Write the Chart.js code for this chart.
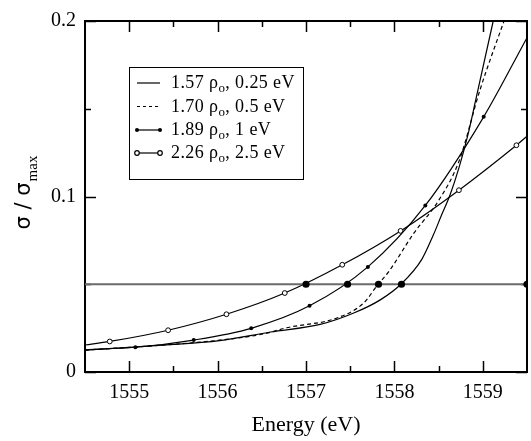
<!DOCTYPE html>
<html>
<head>
<meta charset="utf-8">
<script src="https://cdn.jsdelivr.net/npm/chart.js@4"></script>
<style>
  body { margin: 0; background: #fff; }
</style>
</head>
<body>
<canvas id="out" width="531" height="441"></canvas>
<script>
// axis ranges and ticks
const energyRange = [1554.5, 1559.5];
const sigmaRange = [0, 0.2];
const xTicks = [1555, 1556, 1557, 1558, 1559];
const xMinorTicks = [1555.5, 1556.5, 1557.5, 1558.5];
const yTicks = [0, 0.1, 0.2];
const yMinorTicks = [0.05, 0.15];

// 1.57 rho_o, 0.25 eV (solid)
const energy025 = [1554.5, 1555.0, 1555.5, 1556.0, 1556.6, 1557.16, 1557.54, 1557.84, 1558.08, 1558.31, 1558.44, 1558.53, 1558.63, 1558.73, 1558.83, 1558.92, 1559.2];
const sigma025 = [0.0125, 0.0140, 0.0157, 0.0177, 0.0228, 0.0271, 0.0336, 0.0411, 0.0503, 0.0642, 0.0780, 0.0890, 0.1010, 0.1163, 0.1348, 0.1550, 0.2187];

// 1.70 rho_o, 0.5 eV (dashed)
const energy05 = [1554.5, 1555.0, 1555.5, 1556.0, 1556.5, 1556.78, 1557.35, 1557.65, 1557.82, 1557.93, 1558.22, 1558.50, 1558.73, 1558.97, 1559.26, 1559.35];
const sigma05 = [0.0125, 0.0140, 0.0158, 0.0180, 0.0215, 0.0252, 0.0308, 0.0392, 0.0503, 0.0568, 0.0791, 0.0977, 0.1200, 0.1610, 0.2028, 0.2155];

// 1.89 rho_o, 1 eV (filled dots)
const energy1 = [1554.5, 1555.07, 1555.73, 1556.38, 1557.04, 1557.70, 1558.35, 1559.01, 1559.5];
const sigma1 = [0.0127, 0.0141, 0.0182, 0.0249, 0.0377, 0.0599, 0.0949, 0.1454, 0.1905];

// 2.26 rho_o, 2.5 eV (open circles)
const energy25 = [1554.5, 1554.78, 1555.44, 1556.10, 1556.76, 1557.41, 1558.07, 1558.73, 1559.38, 1559.5];
const sigma25 = [0.0154, 0.0174, 0.0238, 0.0329, 0.0450, 0.0611, 0.0804, 0.1036, 0.1292, 0.1343];

// threshold line and crossings
const crossEnergy = [1554.5, 1557.0, 1557.47, 1557.82, 1558.08, 1559.5];
const crossSigma = [0.05, 0.05, 0.05, 0.05, 0.05, 0.05];

const legendDensity = ['1.57', '1.70', '1.89', '2.26'];
const legendWidth = ['0.25 eV', '0.5 eV', '1 eV', '2.5 eV'];

const serif = 'Liberation Serif';

function toPoints(xs, ys) {
  return xs.map((x, i) => ({ x: x, y: ys[i] }));
}

// markers on every point but the first and last
function innerMarker(radius) {
  return (ctx) => {
    const n = ctx.dataset.data.length;
    return ctx.dataIndex === 0 || ctx.dataIndex === n - 1 ? 0 : radius;
  };
}

const framePlugin = {
  id: 'frame',
  beforeDatasetsDraw(chart) {
    const { ctx, chartArea: a, scales } = chart;
    const x = scales.x, y = scales.y;
    ctx.save();
    ctx.strokeStyle = '#000';
    ctx.lineWidth = 2;
    ctx.strokeRect(a.left, a.top, a.right - a.left, a.bottom - a.top);
    ctx.lineWidth = 1.5;
    ctx.beginPath();
    const xMarks = (vals, len) => {
      for (const v of vals) {
        const px = Math.round(x.getPixelForValue(v)) + 0.5;
        ctx.moveTo(px, a.bottom); ctx.lineTo(px, a.bottom - len);
        ctx.moveTo(px, a.top); ctx.lineTo(px, a.top + len);
      }
    };
    const yMarks = (vals, len) => {
      for (const v of vals) {
        const py = Math.round(y.getPixelForValue(v)) + 0.5;
        ctx.moveTo(a.left, py); ctx.lineTo(a.left + len, py);
        ctx.moveTo(a.right, py); ctx.lineTo(a.right - len, py);
      }
    };
    xMarks(xTicks, 11);
    xMarks(xMinorTicks, 6);
    yMarks(yTicks, 11);
    yMarks(yMinorTicks, 6);
    ctx.stroke();
    ctx.restore();
  }
};

const labelPlugin = {
  id: 'labels',
  afterDraw(chart) {
    const ctx = chart.ctx;
    ctx.save();
    ctx.fillStyle = '#000';
    ctx.strokeStyle = '#000';

    // y axis title: sigma / sigma_max
    ctx.save();
    ctx.translate(30, 193);
    ctx.rotate(-Math.PI / 2);
    ctx.font = '21px "DejaVu Sans"';
    const main = 'σ / σ';
    const mainW = ctx.measureText(main).width;
    ctx.font = '15px "' + serif + '"';
    const subW = ctx.measureText('max').width;
    const start = -(mainW + subW) / 2;
    ctx.textBaseline = 'alphabetic';
    ctx.font = '21px "DejaVu Sans"';
    ctx.fillText(main, start, 0);
    ctx.font = '15px "' + serif + '"';
    ctx.fillText('max', start + mainW + 1, 7);
    ctx.restore();

    // legend box
    ctx.lineWidth = 1;
    ctx.strokeRect(129.5, 67.5, 174, 112);

    const rows = [83, 106.5, 130, 153];
    ctx.letterSpacing = '0.4px';
    for (let i = 0; i < rows.length; i++) {
      const ry = rows[i];
      ctx.lineWidth = 1.2;
      ctx.setLineDash(i === 1 ? [3, 3] : []);
      ctx.beginPath();
      ctx.moveTo(137, ry);
      ctx.lineTo(160, ry);
      ctx.stroke();
      ctx.setLineDash([]);
      if (i === 2) {
        for (const cx of [137, 160]) {
          ctx.beginPath(); ctx.arc(cx, ry, 2, 0, Math.PI * 2); ctx.fill();
        }
      } else if (i === 3) {
        for (const cx of [137, 160]) {
          ctx.beginPath(); ctx.arc(cx, ry, 2.3, 0, Math.PI * 2);
          ctx.fillStyle = '#fff'; ctx.fill();
          ctx.fillStyle = '#000'; ctx.stroke();
        }
      }
      let tx = 171;
      const base = ry + 5;
      ctx.font = '18px "' + serif + '"';
      const head = legendDensity[i] + ' ρ';
      ctx.fillText(head, tx, base);
      tx += ctx.measureText(head).width;
      ctx.font = '13px "' + serif + '"';
      ctx.fillText('o', tx, base + 4);
      tx += ctx.measureText('o').width;
      ctx.font = '18px "' + serif + '"';
      ctx.fillText(', ' + legendWidth[i], tx, base);
    }
    ctx.restore();
  }
};

const chartConfig = {
  type: 'line',
  data: {
    datasets: [
      {
        label: '0.05',
        data: toPoints(crossEnergy, crossSigma),
        borderColor: '#6a6a6a',
        borderWidth: 2,
        pointRadius: (ctx) => ctx.dataIndex === 0 ? 0 : 3.6,
        pointBackgroundColor: '#000',
        pointBorderWidth: 0,
        tension: 0
      },
      {
        label: '1.57 ρo, 0.25 eV',
        data: toPoints(energy025, sigma025),
        borderColor: '#000',
        borderWidth: 1.2,
        pointRadius: 0,
        cubicInterpolationMode: 'monotone',
        clip: 1
      },
      {
        label: '1.70 ρo, 0.5 eV',
        data: toPoints(energy05, sigma05),
        borderColor: '#000',
        borderWidth: 1.2,
        borderDash: [4, 3],
        pointRadius: 0,
        cubicInterpolationMode: 'monotone',
        clip: 1
      },
      {
        label: '1.89 ρo, 1 eV',
        data: toPoints(energy1, sigma1),
        borderColor: '#000',
        borderWidth: 1.2,
        pointRadius: innerMarker(2),
        pointBackgroundColor: '#000',
        pointBorderWidth: 0,
        cubicInterpolationMode: 'monotone',
        clip: 1
      },
      {
        label: '2.26 ρo, 2.5 eV',
        data: toPoints(energy25, sigma25),
        borderColor: '#000',
        borderWidth: 1.2,
        pointRadius: innerMarker(2.4),
        pointBackgroundColor: '#fff',
        pointBorderColor: '#000',
        pointBorderWidth: 1,
        cubicInterpolationMode: 'monotone',
        clip: 1
      }
    ]
  },
  options: {
    responsive: false,
    animation: false,
    events: [],
    layout: { padding: { top: 13, right: 4, left: 0, bottom: 0 } },
    plugins: {
      legend: { display: false },
      tooltip: { enabled: false }
    },
    scales: {
      x: {
        type: 'linear',
        min: energyRange[0],
        max: energyRange[1],
        grid: { display: false, drawTicks: false },
        border: { display: false },
        afterBuildTicks: (scale) => { scale.ticks = xTicks.map((v) => ({ value: v })); },
        afterFit: (scale) => { scale.height = 69; },
        ticks: {
          padding: 9,
          maxRotation: 0,
          color: '#000',
          font: { family: serif, size: 20 },
          callback: (v) => String(v)
        },
        title: {
          display: true,
          text: 'Energy (eV)',
          color: '#000',
          font: { family: serif, size: 22 },
          padding: { top: 0, bottom: 3 }
        }
      },
      y: {
        min: sigmaRange[0],
        max: sigmaRange[1],
        grid: { display: false, drawTicks: false },
        border: { display: false },
        afterBuildTicks: (scale) => { scale.ticks = yTicks.map((v) => ({ value: v })); },
        afterFit: (scale) => { scale.width = 85; },
        ticks: {
          padding: 9,
          color: '#000',
          font: { family: serif, size: 20 },
          callback: (v) => v === 0 ? '0' : String(v)
        }
      }
    }
  },
  plugins: [framePlugin, labelPlugin]
};

const canvasCtx = document.getElementById('out').getContext('2d');
window.chart = new Chart(canvasCtx, chartConfig);
</script>
</body>
</html>
